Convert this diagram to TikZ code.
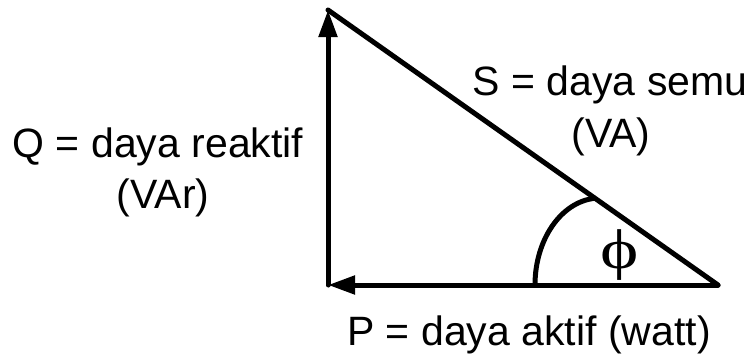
\documentclass[tikz,border=0pt]{standalone}
\usepackage{fontspec}
\usepackage{tikz}
\usetikzlibrary{arrows.meta}
\newfontfamily\lblfont{Liberation Sans}
\newfontfamily\phifont[FakeStretch=1.3]{Liberation Serif}

\begin{document}
\begin{tikzpicture}[
  x=1pt, y=-1pt,
  every node/.style={inner sep=0pt, anchor=base},
  lbl/.style={font=\lblfont\fontsize{41}{48}\selectfont},
  ang/.style={font=\phifont\fontsize{56}{60}\selectfont},
  side/.style={line width=5pt, line cap=round, line join=round},
  vec/.style={side, -{Triangle[length=27pt, width=18pt]}},
]
\useasboundingbox (0,0) rectangle (753,362);

% corners of the triangle
\coordinate (O) at (328,285);
\coordinate (T) at (328,10);
\coordinate (R) at (718,285);

% labels
\node[lbl] at (158,157) (Qtxt)  {Q = daya reaktif};
\node[lbl] at (163,208) (Qunit) {(VAr)};
\node[lbl] at (610,95)  (Stxt)  {S = daya semu};
\node[lbl] at (611,147) (Sunit) {(VA)};
\node[lbl] at (529,345) (Ptxt)  {P = daya aktif (watt)};
\node[ang] at (620,268) (phi)   {ϕ};

% sides
\draw[vec]  (R) -- (O);
\draw[vec]  (O) -- (T);
\draw[side] (T) -- (R);

% angle
\draw[side, line cap=butt] (535,285) arc[start angle=180, end angle=95, x radius=65pt, y radius=87pt];

\end{tikzpicture}
\end{document}
